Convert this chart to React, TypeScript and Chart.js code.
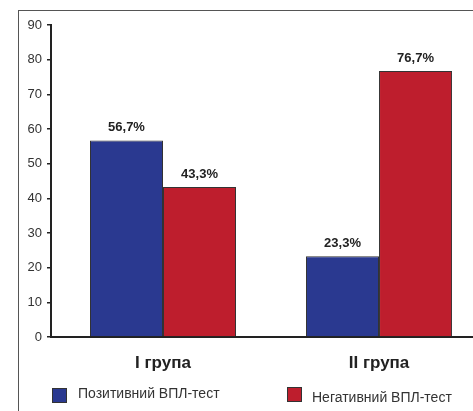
import React, { useEffect, useRef } from "react";
import { Chart, registerables } from "chart.js";

Chart.register(...registerables);

// Groups along the horizontal axis
const categories = ["I група", "II група"];
// Share of each test result per group, %
const positiveValues = [56.7, 23.3];
const negativeValues = [43.3, 76.7];
const seriesNames = ["Позитивний ВПЛ-тест", "Негативний ВПЛ-тест"];
const seriesColors = ["#2a3990", "#be1e2d"];
// Value axis
const yMax = 90;
const yStep = 10;

const FONT = "'Liberation Sans', Arial, Helvetica, sans-serif";

const formatPercent = (v: number) => v.toFixed(1).replace(".", ",") + "%";

// Writes the percentage above every bar
const barValueLabels = {
  id: "barValueLabels",
  afterDatasetsDraw(chart: any) {
    const { ctx } = chart;
    ctx.save();
    ctx.font = `bold 13px ${FONT}`;
    ctx.fillStyle = "#222";
    ctx.textAlign = "center";
    ctx.textBaseline = "alphabetic";
    chart.data.datasets.forEach((ds: any, di: number) => {
      const meta = chart.getDatasetMeta(di);
      meta.data.forEach((bar: any, i: number) => {
        const v = ds.data[i].y;
        ctx.fillText(formatPercent(v), bar.x, bar.y - 9);
      });
    });
    ctx.restore();
  },
};

function BarChart() {
  const canvasRef = useRef<HTMLCanvasElement | null>(null);

  useEffect(() => {
    if (!canvasRef.current) return;
    const toPoints = (arr: number[]) => arr.map((y, x) => ({ x, y }));
    const chart = new Chart(canvasRef.current, {
      type: "bar",
      data: {
        datasets: [
          {
            label: seriesNames[0],
            data: toPoints(positiveValues),
            backgroundColor: seriesColors[0],
            borderColor: "#333",
            borderWidth: 1,
          },
          {
            label: seriesNames[1],
            data: toPoints(negativeValues),
            backgroundColor: seriesColors[1],
            borderColor: "#333",
            borderWidth: 1,
          },
        ] as any,
      },
      options: {
        animation: false,
        responsive: false,
        maintainAspectRatio: false,
        layout: { padding: { top: 25, right: 0, bottom: 0, left: 0 } },
        datasets: {
          bar: { categoryPercentage: 0.676, barPercentage: 1 },
        } as any,
        plugins: {
          legend: { display: false },
          tooltip: { enabled: false },
        },
        scales: {
          x: {
            type: "linear",
            offset: false,
            min: -0.5185,
            max: 1.435,
            afterFit: (s: any) => {
              s.height = 74;
            },
            grid: { display: false, drawTicks: false, offset: false },
            border: { display: true, color: "#222", width: 2 },
            ticks: {
              stepSize: 1,
              includeBounds: false,
              padding: 16,
              color: "#222",
              font: { family: FONT, size: 17, weight: "bold" },
              callback: (v: any) => categories[v] ?? "",
            },
          },
          y: {
            min: 0,
            max: yMax,
            afterFit: (s: any) => {
              s.width = 51;
            },
            grid: {
              drawOnChartArea: false,
              drawTicks: true,
              tickLength: 4,
              tickColor: "#222",
              lineWidth: 1.5,
            },
            border: { display: true, color: "#222", width: 2 },
            ticks: {
              stepSize: yStep,
              padding: 5,
              color: "#333",
              font: { family: FONT, size: 13 },
            },
          },
        },
      } as any,
      plugins: [barValueLabels],
    });
    return () => chart.destroy();
  }, []);

  return (
    <canvas
      ref={canvasRef}
      width={473}
      height={411}
      style={{ position: "absolute", left: 0, top: 0, width: 473, height: 411 }}
    />
  );
}

function LegendItem({
  color,
  text,
  boxLeft,
  boxTop,
  textLeft,
  textTop,
}: {
  color: string;
  text: string;
  boxLeft: number;
  boxTop: number;
  textLeft: number;
  textTop: number;
}) {
  return (
    <>
      <div
        style={{
          position: "absolute",
          left: boxLeft,
          top: boxTop,
          width: 13,
          height: 13,
          background: color,
          border: "1px solid #333",
        }}
      />
      <div
        style={{
          position: "absolute",
          left: textLeft,
          top: textTop,
          font: `14px/14px ${FONT}`,
          color: "#333",
          whiteSpace: "nowrap",
        }}
      >
        {text}
      </div>
    </>
  );
}

export default function App() {
  return (
    <div
      style={{
        position: "fixed",
        left: 0,
        top: 0,
        width: 473,
        height: 411,
        overflow: "hidden",
        background: "#fff",
      }}
    >
      <BarChart />
      {/* outer frame: top and left edges */}
      <div
        style={{
          position: "absolute",
          left: 18,
          top: 10,
          right: -2,
          bottom: -2,
          borderTop: "1px solid #555",
          borderLeft: "1px solid #555",
          pointerEvents: "none",
        }}
      />
      <LegendItem
        color={seriesColors[0]}
        text={seriesNames[0]}
        boxLeft={52}
        boxTop={388}
        textLeft={78}
        textTop={386}
      />
      <LegendItem
        color={seriesColors[1]}
        text={seriesNames[1]}
        boxLeft={287}
        boxTop={387}
        textLeft={312}
        textTop={390}
      />
    </div>
  );
}
